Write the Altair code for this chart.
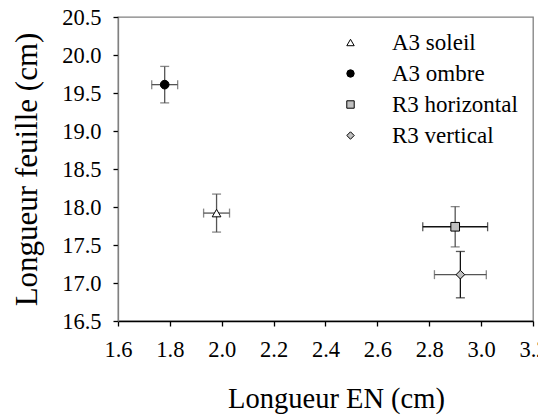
import altair as alt
import pandas as pd

labels = ["A3 soleil", "A3 ombre", "R3 horizontal", "R3 vertical"]
x_vals = [1.98, 1.78, 2.90, 2.92]
x_err = [0.05, 0.05, 0.125, 0.10]
y_vals = [17.92, 19.61, 17.74, 17.11]
y_err = [0.25, 0.24, 0.265, 0.305]
shapes = ["triangle-up", "circle", "square", "diamond"]
fills = ["white", "black", "#c0c0c0", "#c0c0c0"]
ybar_colors = ["#555555", "#555555", "#555555", "#111111"]
xbar_colors = ["#555555", "#555555", "#111111", "#555555"]
x_ticks = [1.6, 1.8, 2.0, 2.2, 2.4, 2.6, 2.8, 3.0, 3.2]
y_ticks = [16.5, 17.0, 17.5, 18.0, 18.5, 19.0, 19.5, 20.0, 20.5]

df = pd.DataFrame({
    "label": labels, "x": x_vals, "y": y_vals,
    "xlo": [a - b for a, b in zip(x_vals, x_err)],
    "xhi": [a + b for a, b in zip(x_vals, x_err)],
    "ylo": [a - b for a, b in zip(y_vals, y_err)],
    "yhi": [a + b for a, b in zip(y_vals, y_err)],
    "ycol": ybar_colors, "xcol": xbar_colors,
})
ycaps = pd.concat([
    df[["x", "ylo", "ycol"]].rename(columns={"ylo": "yc"}),
    df[["x", "yhi", "ycol"]].rename(columns={"yhi": "yc"}),
])
xcaps = pd.concat([
    df[["y", "xlo", "xcol"]].rename(columns={"xlo": "xc"}),
    df[["y", "xhi", "xcol"]].rename(columns={"xhi": "xc"}),
])

FONT = "Liberation Serif"
XT = "Longueur EN (cm)"
YT = "Longueur feuille (cm)"
xscale = alt.Scale(domain=[1.6, 3.2], nice=False, zero=False)
yscale = alt.Scale(domain=[16.5, 20.5], nice=False, zero=False)

xaxis = alt.Axis(values=x_ticks,
                 format=".1f", grid=False, domainColor="black", tickColor="black",
                 tickSize=5, tickWidth=1.3, domainWidth=1.3, labelFlush=False,
                 labelPadding=12, titlePadding=24, labelOverlap=False,
                 labelFont=FONT, labelFontSize=22.5, labelColor="black",
                 titleFont=FONT, titleFontSize=28.5, titleFontWeight="normal",
                 titleColor="black", titleX=218)
yaxis = alt.Axis(values=y_ticks,
                 format=".1f", grid=False, domainColor="#808080", tickColor="black",
                 tickSize=5, tickWidth=1.3, domainWidth=1.3, labelFlush=False,
                 labelPadding=12, titlePadding=18, labelOverlap=False,
                 labelFont=FONT, labelFontSize=22.5, labelColor="black",
                 titleFont=FONT, titleFontSize=31, titleFontWeight="normal",
                 titleColor="black")


def X(field):
    return alt.X(field, type="quantitative", scale=xscale, axis=xaxis, title=XT)


def Y(field):
    return alt.Y(field, type="quantitative", scale=yscale, axis=yaxis, title=YT)


yrules = alt.Chart(df).mark_rule(strokeWidth=1.3).encode(
    x=X("x"), y=Y("ylo"), y2="yhi",
    color=alt.Color("ycol:N", scale=None, legend=None),
)
yticks = alt.Chart(ycaps).mark_tick(orient="horizontal", size=9, thickness=1.3).encode(
    x=X("x"), y=Y("yc"),
    color=alt.Color("ycol:N", scale=None, legend=None),
)
xrules = alt.Chart(df).mark_rule(strokeWidth=1.3).encode(
    y=Y("y"), x=X("xlo"), x2="xhi",
    color=alt.Color("xcol:N", scale=None, legend=None),
)
xticks = alt.Chart(xcaps).mark_tick(orient="vertical", size=9, thickness=1.3).encode(
    x=X("xc"), y=Y("y"),
    color=alt.Color("xcol:N", scale=None, legend=None),
)

legend = alt.Legend(title=None, orient="none", legendX=221, legendY=14,
                    labelFont=FONT, labelFontSize=23, labelColor="black",
                    symbolSize=55, symbolStrokeWidth=1,
                    labelOffset=30, rowPadding=7, padding=0)

points = alt.Chart(df).mark_point(size=75, strokeWidth=1, opacity=1, filled=True).encode(
    x=X("x"), y=Y("y"),
    shape=alt.Shape("label:N", sort=labels,
                    scale=alt.Scale(domain=labels, range=shapes), legend=legend),
    fill=alt.Fill("label:N", sort=labels,
                  scale=alt.Scale(domain=labels, range=fills), legend=legend),
    stroke=alt.Stroke("label:N", sort=labels,
                      scale=alt.Scale(domain=labels, range=["black"] * 4), legend=legend),
)

chart = alt.layer(yrules, yticks, xrules, xticks, points).properties(
    width=415, height=304,
    autosize=alt.AutoSizeParams(type="none"),
    padding={"left": 110, "top": 9, "right": 5, "bottom": 95},
).configure(
    font=FONT,
).configure_axis(
    labelFont=FONT, titleFont=FONT,
).configure_view(
    stroke="#808080", strokeWidth=1.3,
).configure_point(fillOpacity=1)

chart.save("out.html", embed_options={"renderer": "svg", "actions": False})
